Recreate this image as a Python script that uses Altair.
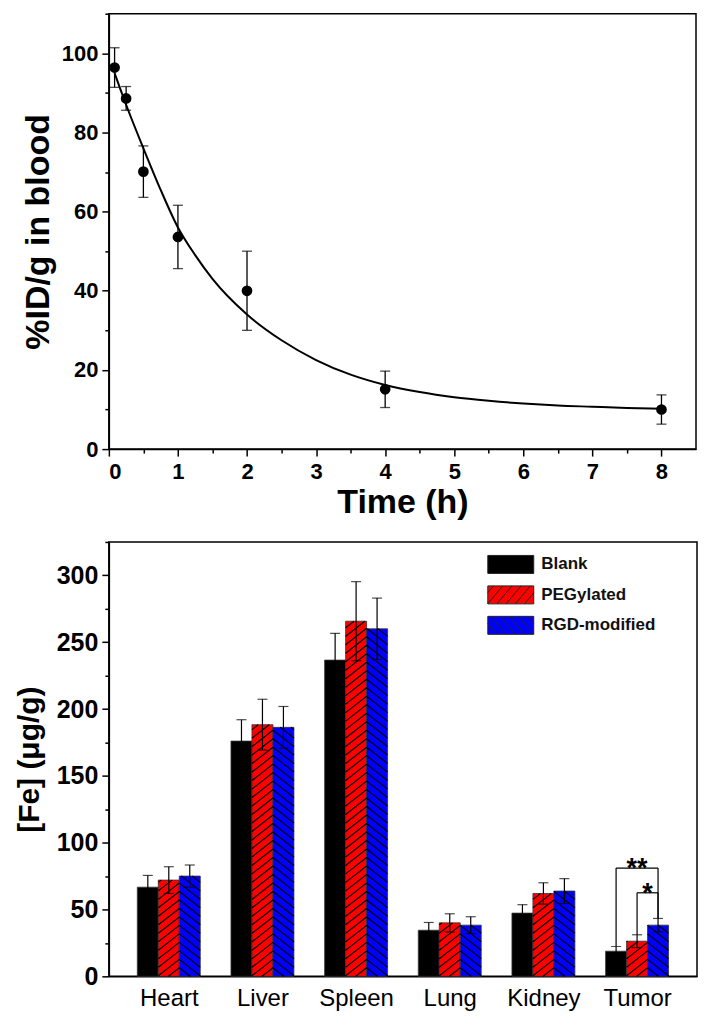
import math
import altair as alt
import pandas as pd

# ---------------- data: blood circulation (top panel) ----------------
time_h = [0.083, 0.25, 0.5, 1, 2, 4, 8]
blood_mean = [96.4, 88.6, 70.1, 53.6, 40.0, 15.1, 10.0]
blood_err = [5.0, 3.0, 6.5, 8.0, 10.0, 4.6, 3.7]

# fitted decay curve
fit_t = [0.083, 0.25, 0.5, 0.75, 1, 1.25, 1.5, 2, 2.5, 3, 3.5, 4, 4.5, 5, 5.5, 6, 6.5, 7, 7.5, 8]
fit_y = [95, 87, 76, 65.5, 56, 49, 43, 34, 27.5, 22.5, 18.8, 16.2, 14.4, 13.1, 12.2, 11.5, 11.0, 10.7, 10.4, 10.2]

# ---------------- data: biodistribution (bottom panel) ----------------
organs = ["Heart", "Liver", "Spleen", "Lung", "Kidney", "Tumor"]
groups = ["Blank", "PEGylated", "RGD-modified"]
blank_mean = [66.7, 176.0, 236.6, 34.5, 47.3, 18.8]
blank_err = [8.8, 16.0, 20.0, 5.8, 6.3, 3.5]
peg_mean = [72.0, 188.3, 265.7, 40.0, 62.0, 26.3]
peg_err = [10.0, 19.0, 29.6, 6.8, 8.0, 4.8]
rgd_mean = [75.0, 186.3, 260.0, 38.3, 63.8, 38.3]
rgd_err = [8.3, 15.6, 23.0, 6.3, 9.3, 5.0]

sig_organ = ["Tumor", "Tumor"]
sig_from = ["Blank", "PEGylated"]
sig_to = ["RGD-modified", "RGD-modified"]
sig_level = [81.0, 62.5]
sig_text = ["**", "*"]

# ---------------- styles ----------------
FONT = "Liberation Sans, Arial, sans-serif"
group_colors = ["#000000", "#FF0000", "#0000FF"]
hatch_dir = {"Blank": None, "PEGylated": "/", "RGD-modified": "\\"}

W1, H1 = 588, 436
XD1, YD1 = [0, 8.5], [0, 110]
W2, H2 = 589, 435
XD2, YD2 = [0.36, 6.64], [0, 325]
BAR_W = 0.224
HATCH_STEP = 8.5
HATCH_K = math.tan(math.radians(38))

# ---------------- top panel ----------------
blood_df = pd.DataFrame({
    "t": time_h,
    "m": blood_mean,
    "lo": [m - e for m, e in zip(blood_mean, blood_err)],
    "hi": [m + e for m, e in zip(blood_mean, blood_err)],
})
fit_df = pd.DataFrame({"t": fit_t, "y": fit_y})

x1_scale = alt.Scale(domain=XD1, nice=False, zero=False)
y1_scale = alt.Scale(domain=YD1, nice=False)
x1_axis = alt.Axis(
    title="Time (h)",
    values=[i * 0.5 for i in range(17)],
    labelExpr="datum.value % 1 === 0 ? format(datum.value, 'd') : ''",
    tickSize={"condition": {"test": "datum.value % 1 !== 0", "value": 4}, "value": 7},
    labelFont=FONT, labelFontWeight="bold", labelFontSize=22,
    labelPadding=5, titleFont=FONT, titleFontWeight="bold", titleFontSize=34,
    titlePadding=4, grid=False,
)
y1_axis = alt.Axis(
    title="%ID/g in blood",
    values=[i * 10 for i in range(12)],
    labelExpr="datum.value % 20 === 0 ? format(datum.value, 'd') : ''",
    tickSize={"condition": {"test": "datum.value % 20 !== 0", "value": 4}, "value": 7},
    labelFont=FONT, labelFontWeight="bold", labelFontSize=22,
    labelPadding=4, titleFont=FONT, titleFontWeight="bold", titleFontSize=34,
    titlePadding=6, grid=False,
)

def X1(f):
    return alt.X(f, type="quantitative", scale=x1_scale, axis=x1_axis)

def Y1(f):
    return alt.Y(f, type="quantitative", scale=y1_scale, axis=y1_axis)

err1 = alt.Chart(blood_df).mark_rule(color="black", strokeWidth=1.3).encode(
    x=X1("t"), y=Y1("lo"), y2="hi:Q")
cap1a = alt.Chart(blood_df).mark_tick(orient="horizontal", color="black", size=10, thickness=1.3).encode(
    x=X1("t"), y=Y1("lo"))
cap1b = alt.Chart(blood_df).mark_tick(orient="horizontal", color="black", size=10, thickness=1.3).encode(
    x=X1("t"), y=Y1("hi"))
fit_line = alt.Chart(fit_df).mark_line(color="black", strokeWidth=2, interpolate="monotone").encode(
    x=X1("t"), y=Y1("y"))
pts = alt.Chart(blood_df).mark_point(filled=True, color="black", size=115, opacity=1).encode(
    x=X1("t"), y=Y1("m"))

top = alt.layer(err1, cap1a, cap1b, fit_line, pts).properties(width=W1, height=H1)

# ---------------- bottom panel ----------------
means = {"Blank": blank_mean, "PEGylated": peg_mean, "RGD-modified": rgd_mean}
errs = {"Blank": blank_err, "PEGylated": peg_err, "RGD-modified": rgd_err}

rows = []
for oi, organ in enumerate(organs):
    for gi, g in enumerate(groups):
        pos = oi + 1 + (gi - 1) * BAR_W
        m = means[g][oi]
        e = errs[g][oi]
        rows.append({"organ": organ, "group": g, "pos": pos,
                     "x0": pos - BAR_W / 2, "x1": pos + BAR_W / 2,
                     "mean": m, "base": 0.0, "lo": m - e, "hi": m + e})
bars_df = pd.DataFrame(rows)

pxx = W2 / (XD2[1] - XD2[0])
pxy = H2 / (YD2[1] - YD2[0])

hatch_rows = []
for r in rows:
    d = hatch_dir[r["group"]]
    if d is None:
        continue
    w = (r["x1"] - r["x0"]) * pxx
    h = r["mean"] * pxy
    c = -w * HATCH_K
    while c < h:
        u0 = max(0.0, -c / HATCH_K)
        u1 = min(w, (h - c) / HATCH_K)
        if u1 > u0:
            v0 = HATCH_K * u0 + c
            v1 = HATCH_K * u1 + c
            if d == "\\":
                u0, u1 = w - u0, w - u1
            hatch_rows.append({"hx0": r["x0"] + u0 / pxx, "hy0": v0 / pxy,
                               "hx1": r["x0"] + u1 / pxx, "hy1": v1 / pxy})
        c += HATCH_STEP
hatch_df = pd.DataFrame(hatch_rows)

def bar_lookup(organ, g):
    for r in rows:
        if r["organ"] == organ and r["group"] == g:
            return r

seg_rows, txt_rows = [], []
for organ, ga, gb, lev, txt in zip(sig_organ, sig_from, sig_to, sig_level, sig_text):
    a = bar_lookup(organ, ga)
    b = bar_lookup(organ, gb)
    seg_rows.append({"sx0": a["pos"], "sx1": a["pos"], "sy0": a["hi"], "sy1": lev})
    seg_rows.append({"sx0": a["pos"], "sx1": b["pos"], "sy0": lev, "sy1": lev})
    seg_rows.append({"sx0": b["pos"], "sx1": b["pos"], "sy0": b["hi"], "sy1": lev})
    txt_rows.append({"tx": (a["pos"] + b["pos"]) / 2, "ty": lev, "txt": txt})
seg_df = pd.DataFrame(seg_rows)
txt_df = pd.DataFrame(txt_rows)

x2_scale = alt.Scale(domain=XD2, nice=False, zero=False)
y2_scale = alt.Scale(domain=YD2, nice=False)
label_js = "[" + ",".join("'" + o + "'" for o in organs) + "]"
x2_axis = alt.Axis(
    title=None, values=list(range(1, len(organs) + 1)),
    labelExpr=label_js + "[datum.value - 1]", ticks=False,
    labelFont=FONT, labelFontSize=24, labelFontWeight="normal", labelPadding=10, grid=False,
)
y2_axis = alt.Axis(
    title="[Fe] (μg/g)", values=[i * 25 for i in range(14)],
    labelExpr="datum.value % 50 === 0 ? format(datum.value, 'd') : ''",
    tickSize={"condition": {"test": "datum.value % 50 !== 0", "value": 4}, "value": 7},
    labelFont=FONT, labelFontWeight="bold", labelFontSize=25, labelPadding=4,
    titleFont=FONT, titleFontWeight="bold", titleFontSize=30, titlePadding=12, grid=False,
)

def X2(f):
    return alt.X(f, type="quantitative", scale=x2_scale, axis=x2_axis)

def Y2(f):
    return alt.Y(f, type="quantitative", scale=y2_scale, axis=y2_axis)

# legend symbols (rectangular swatches with hatching), in symbol units (1 unit = 10 px)
def swatch_path(direction, w=46.0, h=18.0, step=11.0, k=math.tan(math.radians(50))):
    s = 10.0
    p = "M{:.2f},{:.2f}H{:.2f}V{:.2f}H{:.2f}Z".format(-w / 2 / s, -h / 2 / s, w / 2 / s, h / 2 / s, -w / 2 / s)
    if direction is None:
        return p
    c = -w * k
    while c < h:
        u0 = max(0.0, -c / k)
        u1 = min(w, (h - c) / k)
        if u1 > u0:
            v0 = k * u0 + c
            v1 = k * u1 + c
            if direction == "\\":
                u0, u1 = w - u0, w - u1
            p += "M{:.2f},{:.2f}L{:.2f},{:.2f}".format(
                (-w / 2 + u0) / s, (h / 2 - v0) / s, (-w / 2 + u1) / s, (h / 2 - v1) / s)
        c += step
    return p

legend_spec = alt.Legend(
    title=None, orient="none", legendX=392, legendY=541, padding=0, rowPadding=7.5,
    labelFont=FONT, labelFontWeight="bold", labelFontSize=17, labelColor="#111111",
    labelOffset=20, symbolSize=400, symbolStrokeColor="#222222", symbolStrokeWidth=1,
    labelLimit=300,
)
fill_enc = alt.Fill("group:N", scale=alt.Scale(domain=groups, range=group_colors), legend=legend_spec)
shape_enc = alt.Shape("group:N", scale=alt.Scale(domain=groups, range=[swatch_path(hatch_dir[g]) for g in groups]),
                      legend=legend_spec)

bars = alt.Chart(bars_df).mark_rect(stroke="#333333", strokeWidth=0.8).encode(
    x=X2("x0"), x2="x1:Q", y=Y2("mean"), y2="base:Q", fill=fill_enc)
hatch = alt.Chart(hatch_df).mark_rule(color="black", strokeWidth=1.2).encode(
    x=X2("hx0"), x2="hx1:Q", y=Y2("hy0"), y2="hy1:Q")
err2 = alt.Chart(bars_df).mark_rule(color="black", strokeWidth=1.2).encode(
    x=X2("pos"), y=Y2("lo"), y2="hi:Q")
cap2a = alt.Chart(bars_df).mark_tick(orient="horizontal", color="black", size=10, thickness=1.2).encode(
    x=X2("pos"), y=Y2("lo"))
cap2b = alt.Chart(bars_df).mark_tick(orient="horizontal", color="black", size=10, thickness=1.2).encode(
    x=X2("pos"), y=Y2("hi"))
brk = alt.Chart(seg_df).mark_rule(color="black", strokeWidth=1.2).encode(
    x=X2("sx0"), x2="sx1:Q", y=Y2("sy0"), y2="sy1:Q")
stars = alt.Chart(txt_df).mark_text(font=FONT, fontSize=27, fontWeight="bold", color="black",
                                     baseline="alphabetic", dy=9).encode(
    x=X2("tx"), y=Y2("ty"), text="txt:N")
legend_pts = alt.Chart(bars_df).mark_point(filled=True, stroke="#222222", strokeWidth=1, clip=True,
                                           opacity=1, size=400).encode(
    x=X2("pos"), y=alt.value(-300), fill=fill_enc, shape=shape_enc)

bottom = alt.layer(bars, hatch, err2, cap2a, cap2b, brk, stars, legend_pts).properties(width=W2, height=H2)

chart = alt.vconcat(top, bottom, spacing=93, bounds="flush").properties(
    padding={"left": 5, "top": 3, "right": 4, "bottom": 2}
).configure_view(stroke="black", strokeWidth=1.5).configure_axis(
    domainColor="black", domainWidth=1.5, tickColor="black", tickWidth=1.5,
    labelColor="black", titleColor="black",
)

chart.save("out.html", embed_options={"renderer": "svg", "actions": False})
